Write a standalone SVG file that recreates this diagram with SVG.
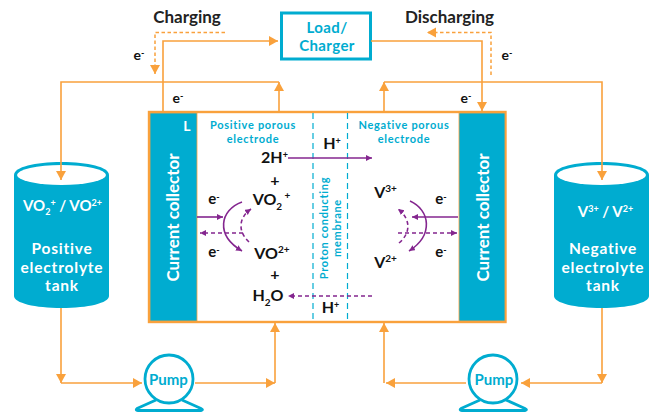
<svg xmlns="http://www.w3.org/2000/svg" width="657" height="413" viewBox="0 0 657 413">
<style>
text{font-family:Lato,"Open Sans","Liberation Sans",sans-serif;text-anchor:middle}
.k{fill:#111;font-weight:700;font-size:16px}
.e{fill:#111;font-weight:700;font-size:14px}
.b{fill:#00acd0;font-weight:700;font-size:11px;letter-spacing:.7px}
.w{fill:#fff;font-weight:700}
.t{font-size:15.500px;letter-spacing:.8px}
.h{font-size:17px;fill:#222}
.o{fill:none;stroke:#f9a13c;stroke-width:1.6}
.od{fill:none;stroke:#f9a13c;stroke-width:1.5;stroke-dasharray:3.5 2.5}
.p{fill:none;stroke:#84268f;stroke-width:1.6}
.pd{fill:none;stroke:#84268f;stroke-width:1.6;stroke-dasharray:4 3}
.m{fill:none;stroke:#00acd0;stroke-width:1.2;stroke-dasharray:6 4}
.pump{fill:none;stroke:#00acd0;stroke-width:2.800}
.pt{stroke:none;fill:#00acd0;font-size:15px;font-weight:700}
</style>
<defs>
<marker id="ao" markerWidth="12" markerHeight="12" refX="9" refY="5" orient="auto" markerUnits="userSpaceOnUse"><path d="M0 0L9 5L0 10Z" fill="#f9a13c"/></marker>
<marker id="ap" markerWidth="8" markerHeight="8" refX="6" refY="3" orient="auto" markerUnits="userSpaceOnUse"><path d="M0 0L6 3L0 6Z" fill="#84268f"/></marker>
</defs>

<g id="load-charger">
<rect x="281.500" y="13" width="89" height="46" fill="#fff" stroke="#00acd0" stroke-width="3"/>
<text fill="#00acd0" font-weight="700" font-size="15" letter-spacing=".4"><tspan x="327" y="33">Load/</tspan><tspan x="327" y="51">Charger</tspan></text>
</g>
<text class="k h" x="187" y="23">Charging</text>
<text class="k h" x="449.500" y="23">Discharging</text>
<text class="e" x="139" y="60">e<tspan dy="-4" font-size="9">-</tspan></text>
<text class="e" x="507" y="60">e<tspan dy="-4" font-size="9">-</tspan></text>
<text class="e" x="178" y="103">e<tspan dy="-4" font-size="9">-</tspan></text>
<text class="e" x="466" y="103">e<tspan dy="-4" font-size="9">-</tspan></text>

<g id="cell">
<rect x="149" y="112" width="356.500" height="210" fill="#fff" stroke="#f9a13c" stroke-width="2.400"/>
<rect x="150" y="113" width="47" height="208" fill="#00acd0" stroke="#f9a13c" stroke-width="0.800"/>
<rect x="459" y="113" width="46" height="208" fill="#00acd0" stroke="#f9a13c" stroke-width="0.800"/>
<path class="m" d="M313 113V321M347.500 113V321"/>
<text class="w" x="187" y="131" font-size="14">L</text>
<text class="w" transform="translate(179 217.500) rotate(-90)" font-size="17">Current collector</text>
<text class="w" transform="translate(489 217.500) rotate(-90)" font-size="17">Current collector</text>
<text class="b"><tspan x="253" y="129">Positive porous</tspan><tspan x="253" y="142.500">electrode</tspan></text>
<text class="b"><tspan x="404" y="129">Negative porous</tspan><tspan x="404" y="142.500">electrode</tspan></text>
<text class="b" transform="rotate(-90 327.500 228)"><tspan x="327.500" y="228">Proton conducting</tspan><tspan x="327.500" y="241">membrane</tspan></text>
<text class="k" x="274.500" y="163">2H<tspan dy="-5" font-size="9">+</tspan></text>
<text class="k" x="275" y="185.500">+</text>
<text class="k" x="271.500" y="205">VO<tspan dy="5" font-size="10">2</tspan><tspan dy="-11" font-size="10"> +</tspan></text>
<text class="k" x="272" y="259">VO<tspan dy="-6" font-size="10">2+</tspan></text>
<text class="k" x="275" y="279.500">+</text>
<text class="k" x="268" y="301">H<tspan dy="5" font-size="10">2</tspan><tspan dy="-5">O</tspan></text>
<text class="k" x="332" y="149">H<tspan dy="-5" font-size="9">+</tspan></text>
<text class="k" x="330.500" y="313">H<tspan dy="-5" font-size="9">+</tspan></text>
<text class="k" x="385.500" y="198">V<tspan dy="-6" font-size="10">3+</tspan></text>
<text class="k" x="385.500" y="268">V<tspan dy="-6" font-size="10">2+</tspan></text>
<text class="e" x="214" y="204" style="font-size:15px">e<tspan dy="-4" font-size="9">-</tspan></text>
<text class="e" x="214" y="257" style="font-size:15px">e<tspan dy="-4" font-size="9">-</tspan></text>
<text class="e" x="441" y="204" style="font-size:15px">e<tspan dy="-4" font-size="9">-</tspan></text>
<text class="e" x="441" y="256.500" style="font-size:15px">e<tspan dy="-4" font-size="9">-</tspan></text>
<path class="p" d="M288 158H372" marker-end="url(#ap)"/>
<path class="pd" d="M372 296H288" marker-end="url(#ap)"/>
<path class="p" d="M197 217H223" marker-end="url(#ap)"/>
<path class="pd" d="M243 233H200" marker-end="url(#ap)"/>
<path class="p" d="M242 202C220 210 215 235 242 251" marker-end="url(#ap)"/>
<path class="pd" d="M249 242C238 232 238 218 251 209" marker-end="url(#ap)"/>
<path class="p" d="M458 217H412" marker-end="url(#ap)"/>
<path class="pd" d="M398 233H457" marker-end="url(#ap)"/>
<path class="p" d="M410 201C430 210 434 235 409 251" marker-end="url(#ap)"/>
<path class="pd" d="M399 243C411 233 411 219 398 209" marker-end="url(#ap)"/>
</g>

<g id="positive-tank">
<path d="M14 175C14 167 35 162 61.500 162S109 167 109 175V296C109 303 88 308 61.500 308S14 303 14 296Z" fill="#00acd0"/>
<ellipse cx="61.500" cy="175" rx="44.500" ry="10" fill="#fff"/>
<text class="w" x="62.500" y="211" font-size="15">VO<tspan dy="4" font-size="9">2</tspan><tspan dy="-9" font-size="9">+</tspan><tspan dy="5"> / VO</tspan><tspan dy="-5" font-size="9">2+</tspan></text>
<text class="w t"><tspan x="62" y="254">Positive</tspan><tspan x="62" y="272.600">electrolyte</tspan><tspan x="62" y="291.200">tank</tspan></text>
</g>

<g id="negative-tank">
<path d="M554 175C554 167 575 162 601.500 162S649 167 649 175V296C649 303 628 308 601.500 308S554 303 554 296Z" fill="#00acd0"/>
<ellipse cx="601.500" cy="175" rx="44.500" ry="10" fill="#fff"/>
<text class="w" x="605.500" y="217" font-size="15">V<tspan dy="-5" font-size="9">3+</tspan><tspan dy="5"> / V</tspan><tspan dy="-5" font-size="9">2+</tspan></text>
<text class="w t"><tspan x="603" y="254">Negative</tspan><tspan x="603" y="272.600">electrolyte</tspan><tspan x="603" y="291.200">tank</tspan></text>
</g>

<g id="pump-left" class="pump">
<path d="M156 400L137 408.500Q135 410 138 410.500H201Q204 410 201 408.500L182 400" stroke-linejoin="round"/>
<circle cx="169" cy="379" r="24" fill="#fff"/>
<text class="pt" x="168.500" y="385">Pump</text>
</g>
<g id="pump-right" class="pump">
<path d="M480 400L461 408.500Q459 410 462 410.500H525Q528 410 525 408.500L506 400" stroke-linejoin="round"/>
<circle cx="493" cy="379" r="24" fill="#fff"/>
<text class="pt" x="494" y="385">Pump</text>
</g>

<g id="connectors">
<path class="o" d="M163 111V41H278" marker-end="url(#ao)"/>
<path class="o" d="M371 41H482V111" marker-end="url(#ao)"/>
<path class="o" d="M279 111V82" marker-end="url(#ao)"/>
<path class="o" d="M279 82H61V180" marker-end="url(#ao)"/>
<path class="o" d="M384 111V82" marker-end="url(#ao)"/>
<path class="o" d="M384 82H602V180" marker-end="url(#ao)"/>
<path class="od" d="M225 32.500H155V74" marker-end="url(#ao)"/>
<path class="od" d="M491 75V32.500H427" marker-end="url(#ao)"/>
<path class="o" d="M61 308V383" marker-end="url(#ao)"/>
<path class="o" d="M61 383H142" marker-end="url(#ao)"/>
<path class="o" d="M195 383H275" marker-end="url(#ao)"/>
<path class="o" d="M275 383V323" marker-end="url(#ao)"/>
<path class="o" d="M602 308V383" marker-end="url(#ao)"/>
<path class="o" d="M602 383H521" marker-end="url(#ao)"/>
<path class="o" d="M466 383H386" marker-end="url(#ao)"/>
<path class="o" d="M384 383V323" marker-end="url(#ao)"/>
</g>
</svg>
